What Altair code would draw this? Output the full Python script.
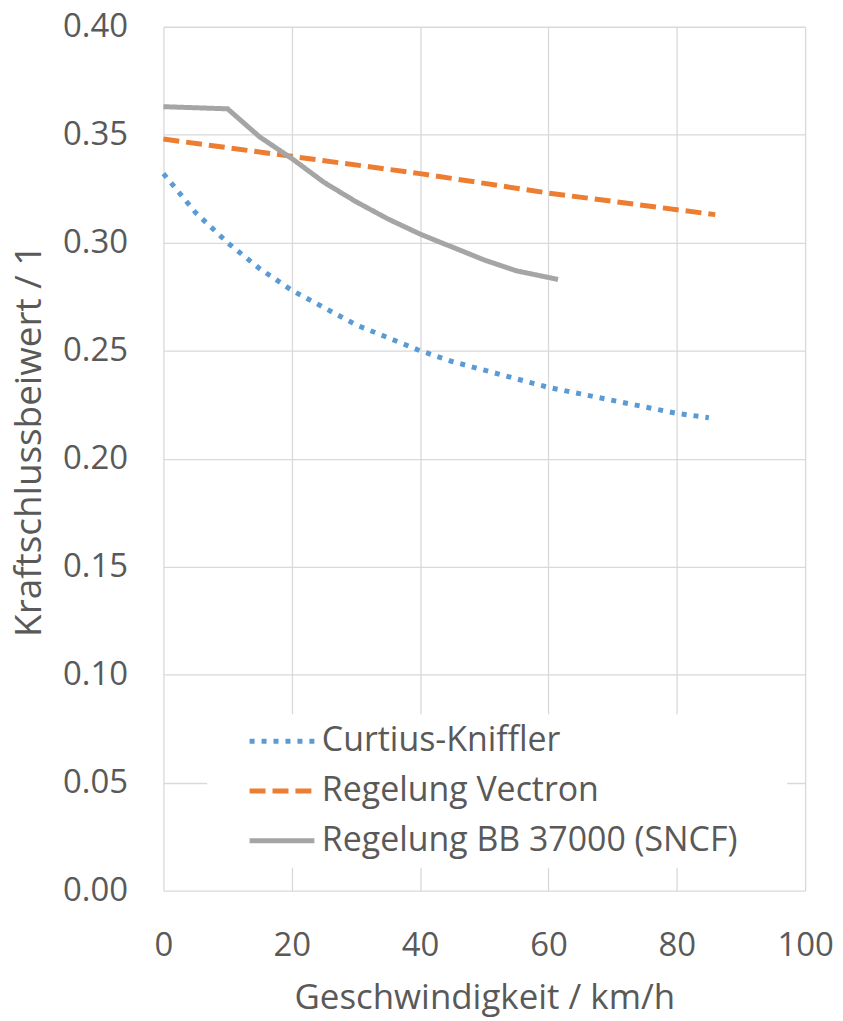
import altair as alt
import pandas as pd

# --- data ---
series_names = ["Curtius-Kniffler", "Regelung Vectron", "Regelung BB 37000 (SNCF)"]
series_colors = ["#5B9BD5", "#ED7D31", "#A5A5A5"]

ck_speed = [0, 5, 10, 15, 20, 25, 30, 35, 40, 45, 50, 55, 60, 65, 70, 75, 80, 85]
ck_mu = [0.332, 0.314, 0.300, 0.288, 0.278, 0.270, 0.262, 0.256, 0.250,
         0.245, 0.241, 0.237, 0.233, 0.230, 0.227, 0.224, 0.221, 0.219]

vec_speed = [0, 20, 40, 60, 86]
vec_mu = [0.348, 0.340, 0.332, 0.323, 0.313]

bb_speed = [0, 10, 15, 20, 25, 30, 35, 40, 45, 50, 55, 61.5]
bb_mu = [0.363, 0.362, 0.349, 0.339, 0.328, 0.319, 0.311, 0.304, 0.298, 0.292, 0.287, 0.283]

x_ticks = [0, 20, 40, 60, 80, 100]
y_ticks = [0.00, 0.05, 0.10, 0.15, 0.20, 0.25, 0.30, 0.35, 0.40]

rows = []
for name, vs, ms in [(series_names[0], ck_speed, ck_mu),
                     (series_names[1], vec_speed, vec_mu),
                     (series_names[2], bb_speed, bb_mu)]:
    for i, (v, m) in enumerate(zip(vs, ms)):
        rows.append({"Reihe": name, "v": v, "mu": m, "i": i})
df = pd.DataFrame(rows)

FONT = "Open Sans"
TXT = "#595959"

legend = alt.Legend(
    title="\u00a0",
    titleOrient="right",
    titleFontSize=1,
    titlePadding=40,
    orient="none",
    legendX=44,
    legendY=690,
    fillColor="white",
    padding=10,
    symbolOffset=48,
    symbolType="M-3,0H3",
    symbolSize=470,
    symbolStrokeWidth=5,
    labelFont=FONT,
    labelFontSize=34,
    labelColor=TXT,
    labelOffset=23,
    labelLimit=700,
    rowPadding=16,
)

chart = alt.Chart(df).mark_line(strokeWidth=5, strokeCap="butt").encode(
    x=alt.X("v:Q", scale=alt.Scale(domain=[0, 100], nice=False),
            axis=alt.Axis(values=x_ticks, title="Geschwindigkeit / km/h",
                          titleY=118, titleBaseline="alphabetic", labelFlush=False,
                          titleFontSize=35)),
    y=alt.Y("mu:Q", scale=alt.Scale(domain=[0, 0.4], nice=False),
            axis=alt.Axis(values=y_ticks, format=".2f", title="Kraftschlussbeiwert / 1",
                          titleX=-123, titleY=415, titleBaseline="alphabetic",
                          titleAngle=270, labelFlush=False, titleFontSize=37)),
    color=alt.Color("Reihe:N", scale=alt.Scale(domain=series_names, range=series_colors),
                    legend=legend),
    strokeDash=alt.StrokeDash("Reihe:N",
                              scale=alt.Scale(domain=series_names,
                                              range=[[5, 7], [16, 7], [1, 0]]),
                              legend=legend),
    order="i:Q",
).properties(
    width=644,
    height=867,
    autosize=alt.AutoSizeParams(type="none"),
    padding={"left": 156, "top": 17, "right": 30, "bottom": 125},
).configure_axis(
    domain=False,
    ticks=False,
    grid=True,
    gridColor="#D9D9D9",
    gridWidth=1.3,
    labelFont=FONT,
    labelFontSize=33,
    labelColor=TXT,
    titleFont=FONT,
    titleFontWeight="normal",
    titleColor=TXT,
).configure_axisX(
    labelPadding=39,
).configure_axisY(
    labelPadding=36,
).configure_view(
    stroke=None,
)

chart.save("out.html", embed_options={"renderer": "svg", "actions": False})
